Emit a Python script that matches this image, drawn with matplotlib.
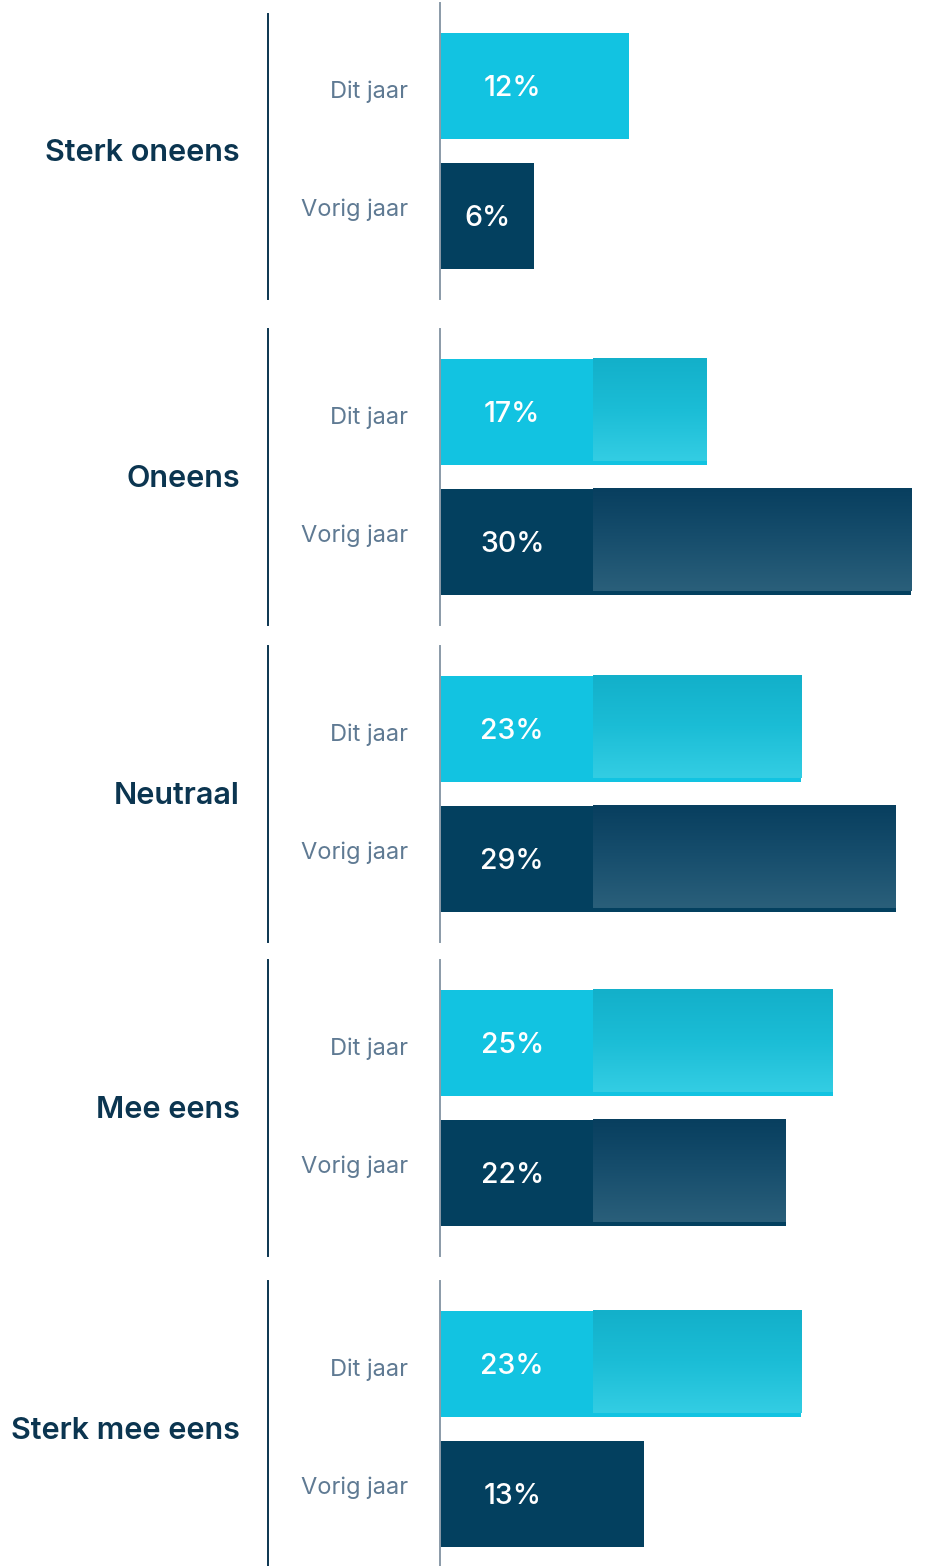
import numpy as np
import matplotlib.pyplot as plt
from matplotlib.lines import Line2D
from matplotlib.colors import LinearSegmentedColormap

# survey answers, share of respondents (%)
categories = ["Sterk oneens", "Oneens", "Neutraal", "Mee eens", "Sterk mee eens"]
series_labels = ["Dit jaar", "Vorig jaar"]
dit_jaar = [12, 17, 23, 25, 23]
vorig_jaar = [6, 30, 29, 22, 13]

W, H = 927, 1566
CYAN = "#12c3e1"
NAVY = "#03405f"
LABEL_DARK = "#0b3550"
LABEL_GREY = "#5f7a93"

plt.rcParams["font.family"] = ["Inter", "DejaVu Sans"]

# top-to-bottom gradient for the part of a bar beyond the label zone
grad_cmaps = {
    CYAN: LinearSegmentedColormap.from_list("cyan_grad", ["#13b0ca", "#1bbdd6", "#33cde3"]),
    NAVY: LinearSegmentedColormap.from_list("navy_grad", ["#083f5f", "#174e6d", "#2a5f7a"]),
}
grad = np.linspace(0, 1, 64).reshape(-1, 1)

x_max = 31
label_zone = 9.75    # solid part of a bar that holds the value label
bar_h = 0.81

fig = plt.figure(figsize=(W / 100, H / 100), dpi=100)

# pixel top of each group panel
group_tops = [3, 329, 646, 960, 1281]
group_h = 296

for i, cat in enumerate(categories):
    top = group_tops[i]
    ax = fig.add_axes([440 / W, 1 - (top + group_h) / H, (W - 440) / W, group_h / H])
    vals = [dit_jaar[i], vorig_jaar[i]]
    cols = [CYAN, NAVY]
    ypos = np.arange(len(vals))
    ax.barh(ypos, vals, height=bar_h, color=cols, zorder=2)

    for y, v, c in zip(ypos, vals, cols):
        if v > 13:
            ax.imshow(grad, cmap=grad_cmaps[c], aspect="auto", interpolation="bicubic",
                      extent=(label_zone, v, y + bar_h / 2 - 0.025, y - bar_h / 2), zorder=3)
        ax.text(min(v / 2, 4.6), y + 0.02, f"{v}%", color="white", fontsize=20.5,
                fontweight="medium", ha="center", va="center", zorder=4)

    # series names, pulled slightly toward the middle of the group
    for y, lbl, dy in zip(ypos, series_labels, [-6, 6]):
        ax.annotate(lbl, xy=(0, y), xycoords=ax.get_yaxis_transform(),
                    xytext=(-32, dy), textcoords="offset pixels",
                    ha="right", va="center", fontsize=17, color=LABEL_GREY)

    extra = (group_h / 130 - 2) / 2
    ax.set_ylim(1.5 + extra, -0.5 - extra)
    ax.set_xlim(0, x_max)
    ax.set_xticks([])
    ax.set_yticks([])
    for side in ["top", "right", "bottom"]:
        ax.spines[side].set_visible(False)
    ax.spines["left"].set_color("#8a9aa8")
    ax.spines["left"].set_linewidth(1.4)
    ax.patch.set_alpha(0)

    # divider between category name and series labels
    line_top = max(top, 14)
    fig.add_artist(Line2D([268 / W, 268 / W], [1 - (top + group_h) / H, 1 - line_top / H],
                          transform=fig.transFigure, color=LABEL_DARK, linewidth=1.4))
    fig.text(240 / W, 1 - (top + group_h / 2 + 2) / H, cat, ha="right", va="center",
             fontsize=22, fontweight="semibold", color=LABEL_DARK)

fig.savefig("out.png", dpi=100, facecolor="white")
